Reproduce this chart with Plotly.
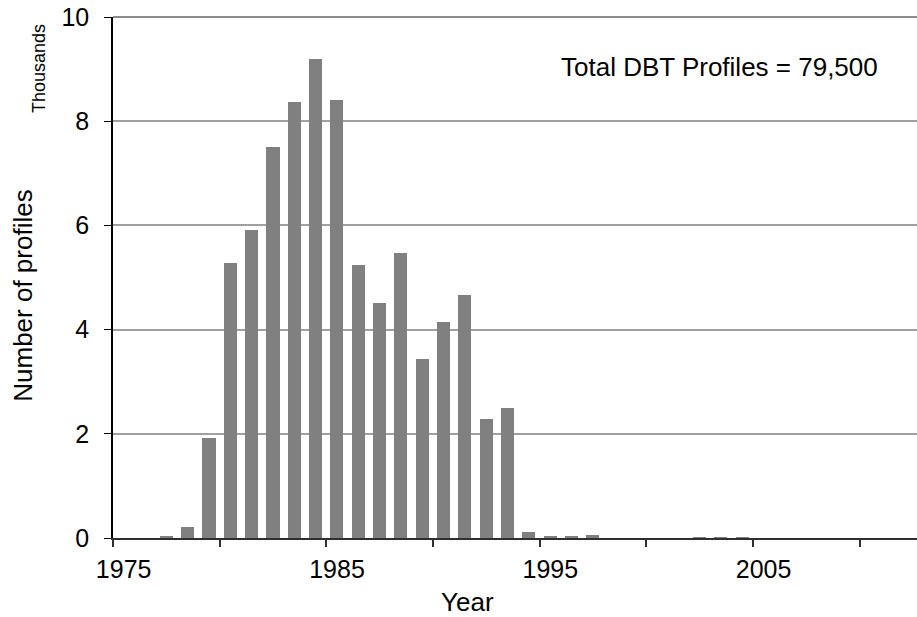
import plotly.graph_objects as go

years = list(range(1975, 2013))
profiles_thousands = [
    0.0, 0.0, 0.02, 0.21, 1.91, 5.27, 5.91, 7.51, 8.36, 9.19,
    8.40, 5.24, 4.51, 5.47, 3.43, 4.15, 4.66, 2.29, 2.50, 0.12,
    0.02, 0.02, 0.065, 0.0, 0.0, 0.0, 0.0, 0.015, 0.015, 0.015,
    0.0, 0.0, 0.0, 0.0, 0.0, 0.0, 0.0, 0.0,
]
x_tick_vals = [1975, 1985, 1995, 2005]
x_tick_text = ["1975", "1985", "1995", "2005"]
y_tick_vals = [0, 2, 4, 6, 8, 10]
y_max = 10

FONT = "Liberation Sans, Arial, sans-serif"
FS = 25
TS = 26

L, T, R, B = 113, 17, 917, 538.5
W, H = 917, 617
PW, PH = R - L, B - T

fig = go.Figure()
fig.add_trace(go.Bar(
    x=years, y=profiles_thousands, width=0.61,
    marker=dict(color="#808080", line=dict(width=0)),
))

fig.update_layout(
    width=W, height=H,
    margin=dict(l=L, r=W - R, t=T, b=H - B),
    plot_bgcolor="white", paper_bgcolor="white",
    showlegend=False,
    font=dict(family=FONT, size=FS, color="black"),
    bargap=0,
)
fig.update_xaxes(
    range=[1974.5, 2012.19],
    tickmode="array", tickvals=x_tick_vals, ticktext=x_tick_text,
    ticks="", showgrid=False, zeroline=False,
    showline=True, linecolor="#303030", linewidth=2,
    tickfont=dict(family=FONT, size=FS, color="black"),
    ticklabelstandoff=8,
    minor=dict(tick0=1974.5, dtick=5, ticks="outside", ticklen=7,
               tickcolor="#303030", tickwidth=1.5, showgrid=False),
)
fig.update_yaxes(
    range=[0, y_max], tickmode="array", tickvals=y_tick_vals,
    ticks="outside", ticklen=7, tickcolor="black", tickwidth=1,
    showline=True, linecolor="black", linewidth=1.5,
    showgrid=True, gridcolor="#a0a0a0", gridwidth=1.5,
    zeroline=False, ticklabelstandoff=10,
    tickfont=dict(family=FONT, size=FS, color="black"),
)

# top gridline at the axis maximum (plotly skips grid on the plot edge)
fig.add_shape(type="line", xref="paper", yref="paper", x0=0, x1=1, y0=1, y1=1,
              line=dict(color="#8c8c8c", width=2), layer="above")

def px(x):
    return (x - L) / PW

def py(y):
    return (B - y) / PH

fig.add_annotation(text="Total DBT Profiles = 79,500", xref="paper", yref="paper",
                   x=px(719), y=py(67),
                   xanchor="center", yanchor="middle", showarrow=False,
                   font=dict(family=FONT, size=TS, color="black"))
fig.add_annotation(text="Year", xref="paper", yref="paper",
                   x=px(467), y=py(603),
                   xanchor="center", yanchor="middle", showarrow=False,
                   font=dict(family=FONT, size=TS, color="black"))
fig.add_annotation(text="Thousands", xref="paper", yref="paper",
                   x=px(39), y=py(69), textangle=-90,
                   xanchor="center", yanchor="middle", showarrow=False,
                   font=dict(family=FONT, size=18, color="black"))
fig.add_annotation(text="Number of profiles", xref="paper", yref="paper",
                   x=px(23), y=py(296), textangle=-90,
                   xanchor="center", yanchor="middle", showarrow=False,
                   font=dict(family=FONT, size=TS, color="black"))

fig.write_html(
    "out.html",
    config={"displayModeBar": False},
    post_script="document.body.style.margin='0';document.body.style.overflow='hidden';",
)
